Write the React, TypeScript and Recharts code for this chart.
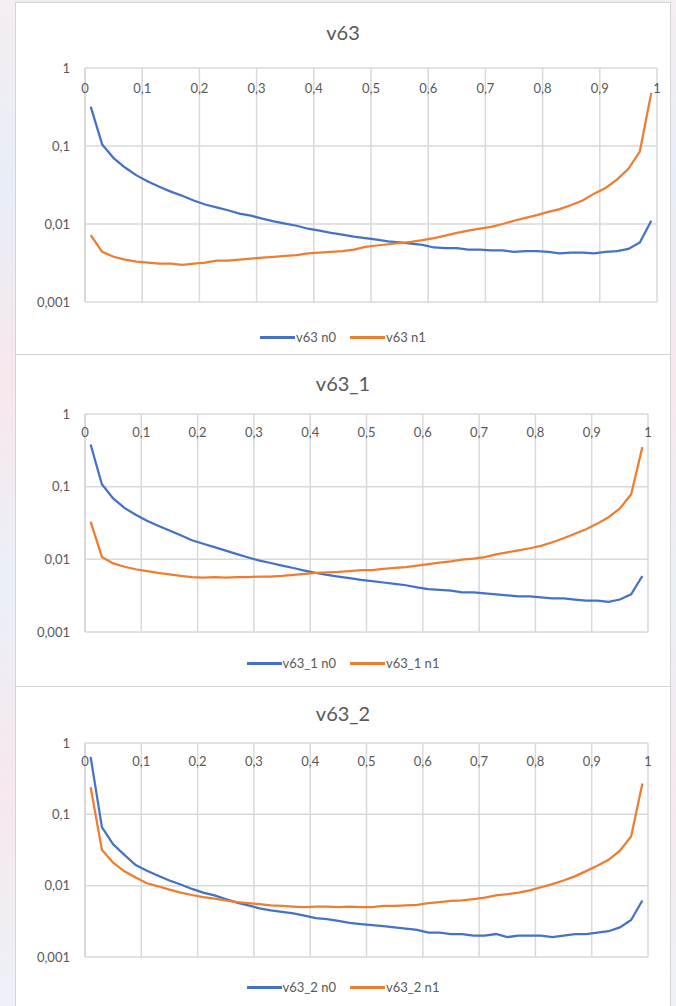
import { LineChart, Line, XAxis, YAxis, CartesianGrid } from "recharts";

// x positions of the points (class midpoints)
const X_VALUES = [
  0.01, 0.03, 0.05, 0.07, 0.09, 0.11, 0.13, 0.15, 0.17, 0.19,
  0.21, 0.23, 0.25, 0.27, 0.29, 0.31, 0.33, 0.35, 0.37, 0.39,
  0.41, 0.43, 0.45, 0.47, 0.49, 0.51, 0.53, 0.55, 0.57, 0.59,
  0.61, 0.63, 0.65, 0.67, 0.69, 0.71, 0.73, 0.75, 0.77, 0.79,
  0.81, 0.83, 0.85, 0.87, 0.89, 0.91, 0.93, 0.95, 0.97, 0.99,
];

const X_TICKS = [0, 0.1, 0.2, 0.3, 0.4, 0.5, 0.6, 0.7, 0.8, 0.9, 1];
const Y_TICKS = [0.001, 0.01, 0.1, 1];

const V63_N0 = [
  0.32, 0.105, 0.07, 0.053, 0.042, 0.035, 0.03, 0.026, 0.023, 0.02,
  0.0178, 0.0163, 0.015, 0.0136, 0.0128, 0.0117, 0.0108, 0.0101, 0.0095, 0.0087,
  0.0082, 0.0077, 0.0073, 0.0069, 0.0066, 0.0063, 0.006, 0.0058, 0.0056, 0.0054,
  0.005, 0.0049, 0.0049, 0.0047, 0.0047, 0.0046, 0.0046, 0.0044, 0.0045, 0.0045,
  0.0044, 0.0042, 0.0043, 0.0043, 0.0042, 0.0044, 0.0045, 0.0048, 0.0058, 0.011,
];
const V63_N1 = [
  0.0072, 0.0044, 0.0038, 0.0035, 0.0033, 0.0032, 0.0031, 0.0031, 0.003, 0.0031,
  0.0032, 0.0034, 0.0034, 0.0035, 0.0036, 0.0037, 0.0038, 0.0039, 0.004, 0.0042,
  0.0043, 0.0044, 0.0045, 0.0047, 0.0051, 0.0053, 0.0055, 0.0057, 0.0059, 0.0062,
  0.0066, 0.0071, 0.0077, 0.0082, 0.0087, 0.0092, 0.01, 0.011, 0.012, 0.013,
  0.0143, 0.0155, 0.0175, 0.02, 0.0245, 0.029, 0.037, 0.051, 0.085, 0.48,
];

const V63_1_N0 = [
  0.38, 0.108, 0.069, 0.051, 0.041, 0.034, 0.029, 0.025, 0.0215, 0.0183,
  0.0164, 0.0147, 0.0132, 0.0118, 0.0106, 0.0096, 0.0089, 0.0082, 0.0076, 0.007,
  0.0065, 0.0061, 0.0058, 0.0055, 0.0052, 0.005, 0.0048, 0.0046, 0.0044, 0.0041,
  0.0039, 0.0038, 0.0037, 0.0035, 0.0035, 0.0034, 0.0033, 0.0032, 0.0031, 0.0031,
  0.003, 0.0029, 0.0029, 0.0028, 0.0027, 0.0027, 0.0026, 0.0028, 0.0033, 0.0059,
];
const V63_1_N1 = [
  0.033, 0.0108, 0.0088, 0.0079, 0.0073, 0.0069, 0.0065, 0.0062, 0.0059, 0.0057,
  0.0056, 0.0057, 0.0056, 0.0057, 0.0057, 0.0058, 0.0058, 0.0059, 0.0061, 0.0063,
  0.0065, 0.0066, 0.0067, 0.0069, 0.0071, 0.0071, 0.0074, 0.0076, 0.0078, 0.0082,
  0.0086, 0.009, 0.0094, 0.0099, 0.0102, 0.0107, 0.0117, 0.0125, 0.0133, 0.0142,
  0.0153, 0.0172, 0.0195, 0.0225, 0.026, 0.031, 0.038, 0.05, 0.078, 0.35,
];

const V63_2_N0 = [
  0.64, 0.066, 0.038, 0.027, 0.0195, 0.0162, 0.0138, 0.0118, 0.0104, 0.009,
  0.008, 0.0073, 0.0065, 0.0058, 0.0053, 0.0048, 0.0045, 0.0043, 0.0041, 0.0038,
  0.0035, 0.0034, 0.0032, 0.003, 0.0029, 0.0028, 0.0027, 0.0026, 0.0025, 0.0024,
  0.0022, 0.0022, 0.0021, 0.0021, 0.002, 0.002, 0.0021, 0.0019, 0.002, 0.002,
  0.002, 0.0019, 0.002, 0.0021, 0.0021, 0.0022, 0.0023, 0.0026, 0.0033, 0.0062,
];
const V63_2_N1 = [
  0.24, 0.032, 0.021, 0.0159, 0.013, 0.0108, 0.0098, 0.0088, 0.008, 0.0074,
  0.0069, 0.0066, 0.0062, 0.0059, 0.0057, 0.0055, 0.0053, 0.0052, 0.0051, 0.005,
  0.0051, 0.0051, 0.005, 0.0051, 0.005, 0.005, 0.0052, 0.0052, 0.0053, 0.0054,
  0.0057, 0.0059, 0.0061, 0.0062, 0.0065, 0.0068, 0.0073, 0.0076, 0.008, 0.0086,
  0.0095, 0.0105, 0.0118, 0.0135, 0.016, 0.019, 0.023, 0.031, 0.049, 0.27,
];

const BLUE = "#4472C4";
const ORANGE = "#ED7D31";
const TEXT = "#595959";
const GRID = "#d9d9d9";
const FONT = "Lato, 'Liberation Sans', sans-serif";
const W = 654;
const PLOT_LEFT = 69;

const fmt = (v: number) => String(v).replace(".", ",");

type PanelProps = {
  title: string;
  names: [string, string];
  n0: number[];
  n1: number[];
  top: number;
  height: number;
  plotTop: number;
  plotBottom: number;
  plotRight: number;
  titleY: number;
  legendY: number;
  labelDy: number;
};

function Panel(p: PanelProps) {
  const data = X_VALUES.map((x, i) => ({ x, n0: p.n0[i], n1: p.n1[i] }));
  return (
    <div
      style={{
        position: "absolute",
        left: 16,
        top: p.top,
        width: W,
        height: p.height,
        background: "#fff",
        boxShadow: "0 0 0 1px #d4d4d4",
        fontFamily: FONT,
      }}
    >
      <div
        style={{
          position: "absolute",
          left: 0,
          width: W,
          top: p.titleY - 12,
          height: 24,
          lineHeight: "24px",
          textAlign: "center",
          fontSize: 20,
          color: TEXT,
        }}
      >
        {p.title}
      </div>
      {/* left frame of the plot area */}
      <div
        style={{
          position: "absolute",
          left: PLOT_LEFT - 1,
          top: p.plotTop,
          width: 2,
          height: p.plotBottom - p.plotTop,
          background: GRID,
        }}
      />
      <LineChart
        width={W}
        height={p.height}
        data={data}
        margin={{ top: p.plotTop - 1, right: W - p.plotRight, bottom: p.height - p.plotBottom, left: 0 }}
        style={{ position: "absolute", left: 0, top: 0 }}
      >
        <CartesianGrid stroke={GRID} strokeWidth={1.5} />
        <XAxis
          dataKey="x"
          type="number"
          orientation="top"
          domain={[0, 1]}
          ticks={X_TICKS}
          height={1}
          axisLine={false}
          tickLine={false}
          tick={(t: any) => (
            <text
              x={t.x}
              y={p.plotTop + p.labelDy}
              textAnchor="middle"
              fontSize={13}
              fill={TEXT}
              fontFamily={FONT}
            >
              {fmt(t.payload.value)}
            </text>
          )}
        />
        <YAxis
          scale="log"
          domain={[0.001, 1]}
          ticks={Y_TICKS}
          allowDataOverflow
          width={PLOT_LEFT}
          axisLine={false}
          tickLine={false}
          tick={(t: any) => (
            <text
              x={PLOT_LEFT - 15}
              y={t.y}
              dy={4.5}
              textAnchor="end"
              fontSize={13}
              fill={TEXT}
              fontFamily={FONT}
            >
              {fmt(t.payload.value)}
            </text>
          )}
        />
        <Line dataKey="n0" name={p.names[0]} stroke={BLUE} strokeWidth={2.25} dot={false} isAnimationActive={false} />
        <Line dataKey="n1" name={p.names[1]} stroke={ORANGE} strokeWidth={2.25} dot={false} isAnimationActive={false} />
      </LineChart>
      <div
        style={{
          position: "absolute",
          left: 0,
          width: W,
          top: p.legendY - 10,
          height: 20,
          display: "flex",
          justifyContent: "center",
          alignItems: "center",
          gap: 14,
          fontSize: 13,
          color: TEXT,
        }}
      >
        {[BLUE, ORANGE].map((c, i) => (
          <div key={c} style={{ display: "flex", alignItems: "center" }}>
            <span style={{ display: "inline-block", width: 35, height: 3, background: c, marginRight: 1 }} />
            <span>{p.names[i]}</span>
          </div>
        ))}
      </div>
    </div>
  );
}

export default function App() {
  return (
    <div
      style={{
        position: "absolute",
        left: 0,
        top: 0,
        width: 676,
        height: 1006,
        overflow: "hidden",
        background:
          "linear-gradient(180deg, #f5edf2 0%, #e8eef6 18%, #f7e7ed 38%, #ebf0f7 58%, #f6e8ee 78%, #edf1f7 100%)",
      }}
    >
      <Panel
        title="v63"
        names={["v63 n0", "v63 n1"]}
        n0={V63_N0}
        n1={V63_N1}
        top={3}
        height={353}
        plotTop={65}
        plotBottom={299}
        plotRight={641}
        titleY={29}
        legendY={334}
        labelDy={25}
      />
      <Panel
        title="v63_1"
        names={["v63_1 n0", "v63_1 n1"]}
        n0={V63_1_N0}
        n1={V63_1_N1}
        top={355}
        height={331}
        plotTop={59}
        plotBottom={277}
        plotRight={632}
        titleY={28}
        legendY={308}
        labelDy={23}
      />
      <Panel
        title="v63_2"
        names={["v63_2 n0", "v63_2 n1"]}
        n0={V63_2_N0}
        n1={V63_2_N1}
        top={687}
        height={320}
        plotTop={56}
        plotBottom={270}
        plotRight={632}
        titleY={26}
        legendY={300}
        labelDy={23}
      />
    </div>
  );
}
